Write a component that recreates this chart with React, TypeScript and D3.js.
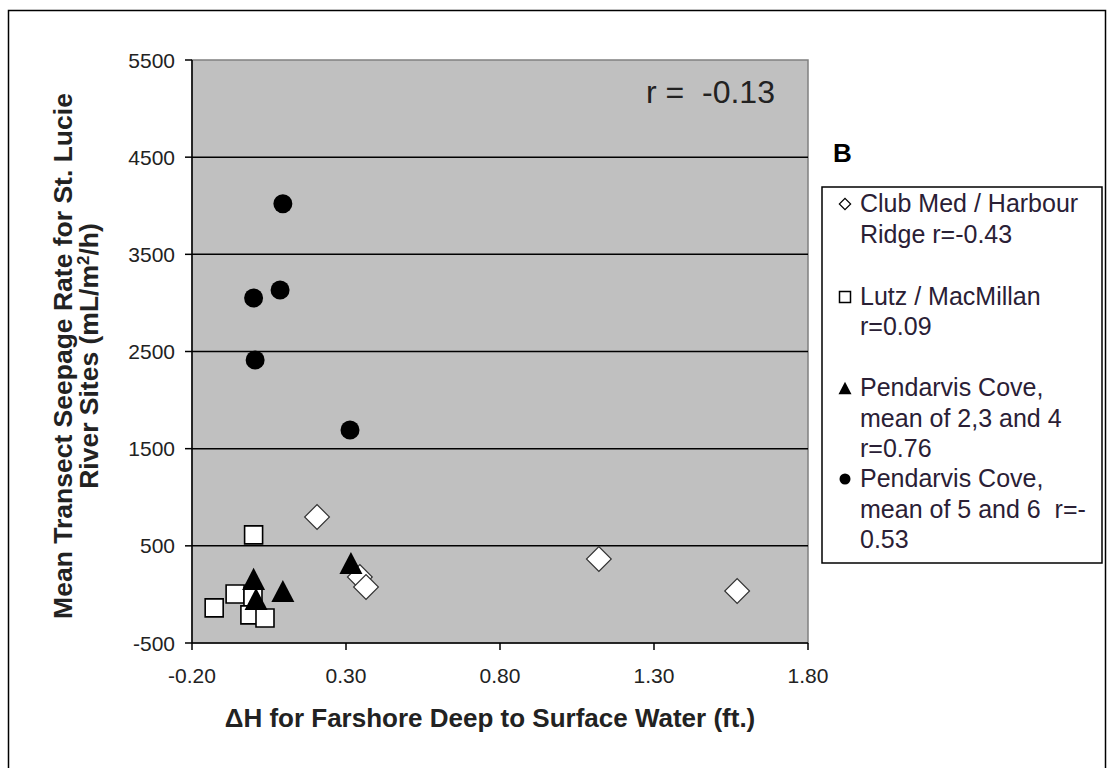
import { scaleLinear, symbol, symbolSquare, symbolCircle } from 'd3'

const xTicks = [-0.2, 0.3, 0.8, 1.3, 1.8]
const yTicks = [-500, 500, 1500, 2500, 3500, 4500, 5500]
const gridValues = [500, 1500, 2500, 3500, 4500]

// Club Med / Harbour Ridge
const clubMedX = [0.206, 0.345, 0.365, 1.121, 1.57]
const clubMedY = [797, 180, 77, 365, 36]

// Lutz / MacMillan
const lutzX = [-0.128, -0.06, -0.002, -0.012, 0.037, 0.0]
const lutzY = [-139, 5, -26, -211, -242, 613]

// Pendarvis Cove, mean of 2,3 and 4
const pend234X = [0.0, 0.008, 0.095, 0.316]
const pend234Y = [160, -47, 36, 324]

// Pendarvis Cove, mean of 5 and 6
const pend56X = [0.095, 0.0, 0.086, 0.005, 0.313]
const pend56Y = [4020, 3050, 3133, 2413, 1693]

const legendLines = [
	['Club Med / Harbour', 'Ridge r=-0.43'],
	['Lutz / MacMillan', 'r=0.09'],
	['Pendarvis Cove,', 'mean of 2,3 and 4', 'r=0.76'],
	['Pendarvis Cove,', 'mean of 5 and 6  r=-', '0.53'],
]

// excel-style triangle, centred on its bounding box (size = width)
const boxTriangle = {
	draw(context: any, size: number) {
		const w = size / 2
		const h = size * 0.48
		context.moveTo(0, -h)
		context.lineTo(w, h)
		context.lineTo(-w, h)
		context.closePath()
	},
}

const font = '"Liberation Sans", Arial, sans-serif'
const textColor = '#222'
const legendColor = '#2a2035'

export default function App() {
	const width = 1112
	const height = 768
	const plot = { left: 192, right: 808, top: 60, bottom: 643 }

	const x = scaleLinear().domain([-0.2, 1.8]).range([plot.left, plot.right])
	const y = scaleLinear().domain([-500, 5500]).range([plot.bottom, plot.top])

	const squarePath = (side: number) => symbol(symbolSquare, side * side)() ?? ''
	const circlePath = (d: number) => symbol(symbolCircle, Math.PI * (d / 2) * (d / 2))() ?? ''
	const trianglePath = (w: number) => symbol(boxTriangle as any, w)() ?? ''

	const legend = { left: 822, top: 187, right: 1102, bottom: 563 }
	const legendBaselines = [
		[212, 243],
		[305, 335],
		[396, 427, 457],
		[487, 518, 548],
	]

	const legendMarker = (i: number, cx: number, cy: number) => {
		if (i === 0) {
			return <path d={squarePath(8)} transform={`translate(${cx},${cy}) rotate(45)`} fill="#fff" stroke="#000" strokeWidth={1.2} />
		}
		if (i === 1) {
			return <path d={squarePath(11)} transform={`translate(${cx},${cy})`} fill="#fff" stroke="#000" strokeWidth={1.5} />
		}
		if (i === 2) {
			return <path d={trianglePath(13)} transform={`translate(${cx},${cy})`} fill="#000" />
		}
		return <path d={circlePath(11)} transform={`translate(${cx},${cy})`} fill="#000" />
	}

	return (
		<div style={{ position: 'absolute', left: 0, top: 0 }}>
			<svg width={width} height={height} style={{ display: 'block', fontFamily: font }}>
				<rect x={0} y={0} width={width} height={height} fill="#fff" />
				<rect x={8.5} y={10.5} width={1097} height={800} fill="#fff" stroke="#000" strokeWidth={1.5} />

				{/* plot area */}
				<rect
					x={plot.left}
					y={plot.top}
					width={plot.right - plot.left}
					height={plot.bottom - plot.top}
					fill="#c0c0c0"
					stroke="#808080"
					strokeWidth={1.5}
				/>
				{gridValues.map((v) => (
					<line key={v} x1={plot.left} x2={plot.right} y1={y(v)} y2={y(v)} stroke="#000" strokeWidth={1.5} />
				))}

				{/* y axis */}
				<line x1={plot.left} x2={plot.left} y1={plot.top} y2={plot.bottom} stroke="#000" strokeWidth={1.5} />
				{yTicks.map((t) => (
					<g key={t}>
						<line x1={plot.left - 7} x2={plot.left} y1={y(t)} y2={y(t)} stroke="#000" strokeWidth={1.5} />
						<text x={plot.left - 17} y={y(t)} dy="0.36em" textAnchor="end" fontSize={21} fill={textColor}>
							{t}
						</text>
					</g>
				))}

				{/* x axis */}
				<line x1={plot.left} x2={plot.right} y1={plot.bottom} y2={plot.bottom} stroke="#000" strokeWidth={1.5} />
				{xTicks.map((t) => (
					<g key={t}>
						<line x1={x(t)} x2={x(t)} y1={plot.bottom} y2={plot.bottom + 7} stroke="#000" strokeWidth={1.5} />
						<text x={x(t)} y={683} textAnchor="middle" fontSize={21} fill={textColor}>
							{t.toFixed(2)}
						</text>
					</g>
				))}

				{/* series */}
				{clubMedX.map((v, i) => (
					<path
						key={`cm-${i}`}
						d={squarePath(17.5)}
						transform={`translate(${x(v)},${y(clubMedY[i])}) rotate(45)`}
						fill="#fff"
						stroke="#333"
						strokeWidth={1.2}
					/>
				))}
				{lutzX.map((v, i) => (
					<path
						key={`lu-${i}`}
						d={squarePath(18)}
						transform={`translate(${x(v)},${y(lutzY[i])})`}
						fill="#fff"
						stroke="#000"
						strokeWidth={1.6}
					/>
				))}
				{pend234X.map((v, i) => (
					<path key={`p4-${i}`} d={trianglePath(23)} transform={`translate(${x(v)},${y(pend234Y[i])})`} fill="#000" />
				))}
				{pend56X.map((v, i) => (
					<path key={`p6-${i}`} d={circlePath(19)} transform={`translate(${x(v)},${y(pend56Y[i])})`} fill="#000" />
				))}

				<text x={646} y={103} fontSize={32} fill={textColor} style={{ whiteSpace: 'pre' }}>
					{'r =  -0.13'}
				</text>

				{/* axis titles */}
				<text x={490} y={727} textAnchor="middle" fontSize={26} fontWeight="bold" fill={textColor}>
					ΔH for Farshore Deep to Surface Water (ft.)
				</text>
				<g transform="translate(0, 356) rotate(-90)">
					<text x={0} y={72} textAnchor="middle" fontSize={26.5} fontWeight="bold" fill={textColor}>
						Mean Transect Seepage Rate for St. Lucie
					</text>
					<text x={0} y={98} textAnchor="middle" fontSize={26.5} fontWeight="bold" fill={textColor}>
						River Sites (mL/m<tspan dy={-9} fontSize={17}>2</tspan>
						<tspan dy={9}>/h)</tspan>
					</text>
				</g>

				{/* legend */}
				<text x={833} y={162} fontSize={26} fontWeight="bold" fill="#000">
					B
				</text>
				<rect
					x={legend.left}
					y={legend.top}
					width={legend.right - legend.left}
					height={legend.bottom - legend.top}
					fill="#fff"
					stroke="#000"
					strokeWidth={1.5}
				/>
				{legendLines.map((lines, i) => (
					<g key={i}>
						{legendMarker(i, 845, legendBaselines[i][0] - 8)}
						{lines.map((line, j) => (
							<text key={j} x={860} y={legendBaselines[i][j]} fontSize={25} fill={legendColor} style={{ whiteSpace: 'pre' }}>
								{line}
							</text>
						))}
					</g>
				))}
			</svg>
		</div>
	)
}
